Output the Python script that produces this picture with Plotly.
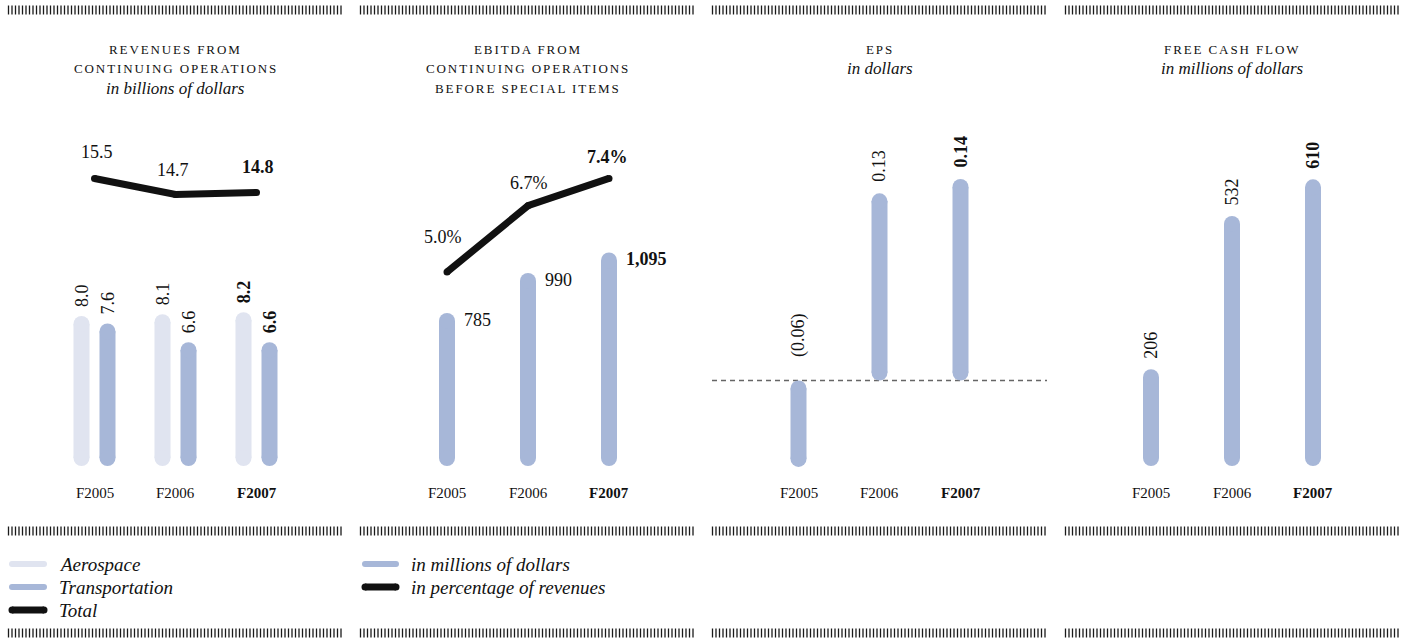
import numpy as np
import plotly.graph_objects as go

# ---- data -----------------------------------------------------------------
years = ["F2005", "F2006", "F2007"]
rev_aerospace = [8.0, 8.1, 8.2]          # billions of dollars
rev_transport = [7.6, 6.6, 6.6]          # billions of dollars
rev_total = [15.5, 14.7, 14.8]           # billions of dollars
ebitda_musd = [785, 990, 1095]           # millions of dollars
ebitda_margin = [5.0, 6.7, 7.4]          # percentage of revenues
eps_usd = [-0.06, 0.13, 0.14]            # dollars
fcf_musd = [206, 532, 610]               # millions of dollars

# ---- page geometry & style -----------------------------------------------
W, H = 1406, 644
FONT = "Liberation Serif"
INK = "#111111"
LIGHT = "#e0e4f0"
BLUE = "#a7b7d8"
PANELS = [(8, 343), (360, 696), (712, 1047), (1065, 1399)]
PITCH = 81            # px between year columns
Y_TOP, Y_BOT = 100, 480
BAR_W = 16
LINE_W = 7
PAIR_OFF = 13 / PITCH  # half spacing of the two revenue bars (x units)
CLEAR = "rgba(0,0,0,0)"


def fmt_num(v, dec=1):
    return f"{v:.{dec}f}"


def paper_y(py):
    return (H - py) / H


def y_range(base_px, base_val, ppu):
    lo = base_val - (Y_BOT - base_px) / ppu
    hi = base_val + (base_px - Y_TOP) / ppu
    return [lo, hi]


fig = go.Figure()
layout_axes = {}
ydom = [paper_y(Y_BOT), paper_y(Y_TOP)]

# pixels-per-unit and baseline of each value axis
Y_SPECS = {
    "y": (466, 0, 18.75),      # revenue bars
    "y2": (466, 0, 0.195),     # ebitda bars
    "y3": (380.5, 0, 1440),    # eps bars
    "y4": (466, 0, 0.47),      # free cash flow bars
    "y5": (178.5, 15.5, 20),   # total revenue line
    "y6": (272, 5.0, 39),      # ebitda margin line
}

# full-page pixel frame for rules, titles and legend keys (drawn first, underneath)
layout_axes["xaxis"] = dict(domain=[0, 1], range=[0, W], visible=False, fixedrange=True, anchor="y")
layout_axes["yaxis"] = dict(domain=[0, 1], range=[H, 0], visible=False, fixedrange=True, anchor="x")

PANEL_X = ["x2", "x3", "x4", "x5"]
PANEL_Y = ["y2", "y3", "y4", "y5"]
BAR_SPEC = ["y", "y2", "y3", "y4"]

for i, (x0, x1) in enumerate(PANELS):
    c = (x0 + x1) / 2
    xr = [1 - (c - x0) / PITCH, 1 + (x1 - c) / PITCH]
    xn, yn = PANEL_X[i], PANEL_Y[i]
    layout_axes["xaxis" + xn[1:]] = dict(domain=[x0 / W, x1 / W], range=xr, visible=False,
                                         fixedrange=True, anchor=yn)
    b, v0, ppu = Y_SPECS[BAR_SPEC[i]]
    layout_axes["yaxis" + yn[1:]] = dict(domain=ydom, range=y_range(b, v0, ppu), visible=False,
                                         fixedrange=True, anchor=xn)

# overlay value axes for the two line series
LINE_AX = {"y6": ("y5", "x2", "y2"), "y7": ("y6", "x3", "y3")}
for name, (spec, xa, base) in LINE_AX.items():
    b, v0, ppu = Y_SPECS[spec]
    layout_axes["yaxis" + name[1:]] = dict(range=y_range(b, v0, ppu), visible=False,
                                           fixedrange=True, overlaying=base, anchor=xa)
PPU = {"y2": Y_SPECS["y"][2], "y3": Y_SPECS["y2"][2], "y4": Y_SPECS["y3"][2],
       "y5": Y_SPECS["y4"][2]}


def pill(xv, v, yname, xa, color, width=BAR_W):
    ppu = PPU[yname]
    lo, hi = min(0, v), max(0, v)
    inset = width / 2 / ppu
    fig.add_trace(go.Scatter(
        x=[xv, xv], y=[lo + inset, hi - inset], mode="lines+markers",
        line=dict(color=color, width=width),
        marker=dict(size=width, color=color, line=dict(width=0)),
        xaxis=xa, yaxis=yname, hoverinfo="skip", showlegend=False))


def thick_line(xs, ys, xa, ya, color=INK, width=LINE_W):
    fig.add_trace(go.Scatter(
        x=list(xs), y=list(ys), mode="lines+markers",
        line=dict(color=color, width=width),
        marker=dict(size=width, color=color, line=dict(width=0)),
        xaxis=xa, yaxis=ya, hoverinfo="skip", showlegend=False))


annotations = []


def label(text, x, y, xref, yref, size=18, bold=False, italic=False, angle=0,
          xanchor="center", yanchor="middle", xshift=0, yshift=0):
    if bold:
        text = f"<b>{text}</b>"
    if italic:
        text = f"<i>{text}</i>"
    annotations.append(dict(text=text, x=x, y=y, xref=xref, yref=yref, showarrow=False,
                            font=dict(family=FONT, size=size, color=INK), textangle=angle,
                            xanchor=xanchor, yanchor=yanchor, xshift=xshift, yshift=yshift,
                            borderpad=0))


def caps(text, spacing=1.9):
    return f'<span style="letter-spacing:{spacing}px">{text}</span>'


# hatched rules above, between and below the panels
hx, hy = [], []
for row in (10, 531, 633):
    for (x0, x1) in PANELS:
        for xv in np.arange(x0 + 0.5, x1, 3.5):
            hx += [xv, xv, None]
            hy += [row - 4.5, row + 4.5, None]
fig.add_trace(go.Scatter(x=hx, y=hy, mode="lines", line=dict(color="#1a1a1a", width=1.3),
                         xaxis="x", yaxis="y", hoverinfo="skip", showlegend=False))

idx = np.arange(len(years))
last = len(years) - 1

# ---- panel 1: revenues ----------------------------------------------------
for k in idx:
    pill(k - PAIR_OFF, rev_aerospace[k], "y2", "x2", LIGHT)
    pill(k + PAIR_OFF, rev_transport[k], "y2", "x2", BLUE)
    label(fmt_num(rev_aerospace[k]), k - PAIR_OFF, rev_aerospace[k], "x2", "y2",
          angle=-90, yanchor="bottom", yshift=8, bold=(k == last))
    label(fmt_num(rev_transport[k]), k + PAIR_OFF, rev_transport[k], "x2", "y2",
          angle=-90, yanchor="bottom", yshift=8, bold=(k == last))
thick_line(idx, rev_total, "x2", "y6")
TOTAL_SHIFT = [(2, 26), (-3, 24), (1, 25)]
for k in idx:
    dx, dy = TOTAL_SHIFT[k]
    label(fmt_num(rev_total[k]), k, rev_total[k], "x2", "y6", bold=(k == last),
          xshift=dx, yshift=dy)

# ---- panel 2: ebitda ------------------------------------------------------
for k in idx:
    pill(k, ebitda_musd[k], "y3", "x3", BLUE)
    label(f"{ebitda_musd[k]:,}", k, ebitda_musd[k], "x3", "y3", bold=(k == last),
          xanchor="left", xshift=16, yshift=-7)
thick_line(idx, ebitda_margin, "x3", "y7")
MARGIN_SHIFT = [(-4, 35), (1, 23), (-2, 21)]
for k in idx:
    dx, dy = MARGIN_SHIFT[k]
    label(f"{ebitda_margin[k]:.1f}%", k, ebitda_margin[k], "x3", "y7", bold=(k == last),
          xshift=dx, yshift=dy)

# ---- panel 3: eps -----------------------------------------------------------
for k in idx:
    pill(k, eps_usd[k], "y4", "x4", BLUE)
    v = eps_usd[k]
    txt = f"{abs(v):.2f}" if v >= 0 else f"({abs(v):.2f})"
    label(txt, k, max(v, 0), "x4", "y4", angle=-90, yanchor="bottom",
          yshift=10 if v >= 0 else 22, bold=(k == last))

# ---- panel 4: free cash flow ------------------------------------------------
for k in idx:
    pill(k, fcf_musd[k], "y5", "x5", BLUE)
    label(f"{fcf_musd[k]:,}", k, fcf_musd[k], "x5", "y5", angle=-90, yanchor="bottom",
          yshift=9, bold=(k == last))

# year labels under each panel
for xr in PANEL_X:
    for k in idx:
        label(years[k], k, paper_y(493), xr, "paper", size=15, bold=(k == last))

# panel titles
TITLES = [
    [("REVENUES FROM", False), ("CONTINUING OPERATIONS", False), ("in billions of dollars", True)],
    [("EBITDA FROM", False), ("CONTINUING OPERATIONS", False), ("BEFORE SPECIAL ITEMS", False)],
    [("EPS", False), ("in dollars", True)],
    [("FREE CASH FLOW", False), ("in millions of dollars", True)],
]
TITLE_ROWS = [49, 68, 88]
for (x0, x1), rows in zip(PANELS, TITLES):
    c = (x0 + x1) / 2
    for row, (txt, it) in zip(TITLE_ROWS, rows):
        if it:
            label(txt, c, row, "x", "y", size=17, italic=True)
        else:
            label(caps(txt), c, row, "x", "y", size=13)

# zero line for eps
shapes = [dict(type="line", xref="x4 domain", x0=0, x1=1, yref="y4", y0=0, y1=0,
               line=dict(color="#666666", width=1.3, dash="5px,4px"), layer="below")]

# legend keys
LEGENDS = [
    (12, 44, 58, [("Aerospace", LIGHT, 6), ("Transportation", BLUE, 6), ("Total", INK, 7)]),
    (365, 396, 410, [("in millions of dollars", BLUE, 6), ("in percentage of revenues", INK, 7)]),
]
LEG_ROWS = [564, 587, 610]
for xa, xb, xt, items in LEGENDS:
    for row, (txt, col, lw) in zip(LEG_ROWS, items):
        thick_line([xa, xb], [row, row], "x", "y", color=col, width=lw)
        label(txt, xt, row, "x", "y", size=19, italic=True, xanchor="left")

fig.update_layout(width=W, height=H, margin=dict(l=0, r=0, t=0, b=0),
                  paper_bgcolor="white", plot_bgcolor=CLEAR, showlegend=False,
                  annotations=annotations, shapes=shapes, **layout_axes)

fig.write_html("out.html")
